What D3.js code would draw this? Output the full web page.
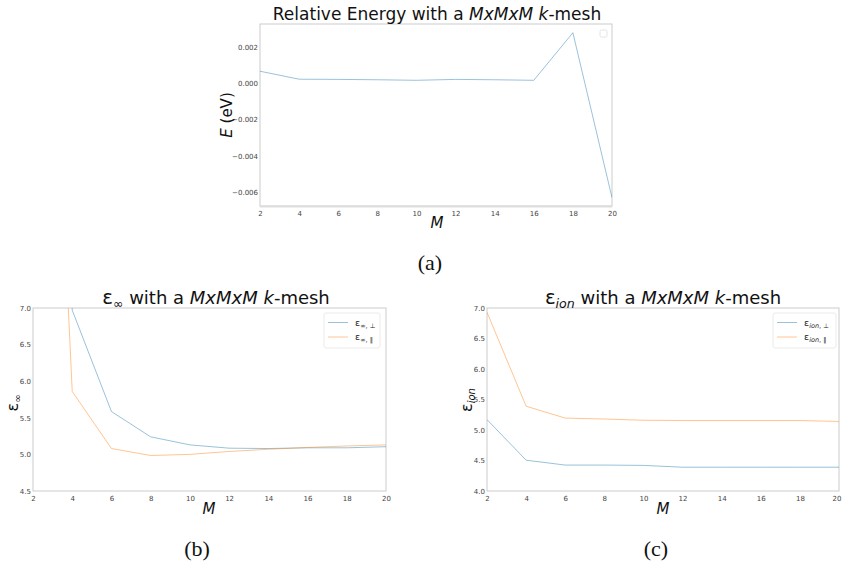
<!DOCTYPE html>
<html><head><meta charset="utf-8">
<script src="https://cdn.jsdelivr.net/npm/d3@7"></script>
<style>
body{margin:0;background:#fff;}
svg text{font-family:"DejaVu Sans",sans-serif;}
</style></head>
<body><svg id="c" width="842" height="568"></svg>
<script>
const M = [2,4,6,8,10,12,14,16,18,20];
const xTicks = [2,4,6,8,10,12,14,16,18,20];
// (a) relative energy (eV)
const energy = [0.00066,0.00022,0.00021,0.00019,0.00016,0.00021,0.00019,0.00016,0.00278,-0.0063];
const energyTicks = [-0.006,-0.004,-0.002,0.000,0.002];
// (b) epsilon infinity
const epsInfPerp = [25.0,6.97,5.585,5.24,5.13,5.085,5.08,5.09,5.09,5.105];
const epsInfPar  = [17.3,5.86,5.08,4.985,5.0,5.04,5.07,5.095,5.115,5.13];
const epsInfTicks = [4.5,5.0,5.5,6.0,6.5,7.0];
// (c) epsilon ion
const epsIonPerp = [5.17,4.505,4.425,4.425,4.42,4.39,4.39,4.39,4.39,4.39];
const epsIonPar  = [6.93,5.39,5.195,5.18,5.16,5.155,5.155,5.155,5.155,5.14];
const epsIonTicks = [4.0,4.5,5.0,5.5,6.0,6.5,7.0];

const svg = d3.select("#c");
const C1 = "#1f77b4", C2 = "#ff7f0e";
let clipId = 0;

function chart(o){
  const x = d3.scaleLinear().domain([2,20]).range([o.x0,o.x1]);
  const y = d3.scaleLinear().domain(o.ydom).range([o.y1,o.y0]);
  const g = svg.append("g");
  const id = "clip"+(clipId++);
  svg.append("clipPath").attr("id",id).append("rect")
    .attr("x",o.x0).attr("y",o.y0).attr("width",o.x1-o.x0).attr("height",o.y1-o.y0);
  const xa = g.append("g").attr("transform",`translate(0,${o.y1})`)
    .call(d3.axisBottom(x).tickValues(xTicks).tickSize(0).tickPadding(5).tickFormat(d3.format("d")));
  const ya = g.append("g").attr("transform",`translate(${o.x0},0)`)
    .call(d3.axisLeft(y).tickValues(o.yticks).tickSize(0).tickPadding(2).tickFormat(o.yfmt));
  [xa,ya].forEach(a=>{a.select(".domain").remove();
    a.selectAll("text").attr("font-size",7).attr("fill","#444").attr("font-family","DejaVu Sans");});
  if(o.shiftLast) xa.selectAll(".tick").filter(d=>d===20).select("text").attr("dx",-2.5);
  g.append("rect").attr("x",o.x0).attr("y",o.y0).attr("width",o.x1-o.x0).attr("height",o.y1-o.y0)
    .attr("fill","none").attr("stroke","#cccccc").attr("stroke-width",1);
  if(o.thickBottom) g.append("line").attr("x1",o.x0).attr("x2",o.x1).attr("y1",o.y1+0.5).attr("y2",o.y1+0.5)
    .attr("stroke","#dddddd").attr("stroke-width",2);
  const line = d3.line().x((d,i)=>x(M[i])).y(d=>y(d));
  o.series.forEach(s=>{
    g.append("path").datum(s.v).attr("d",line).attr("fill","none")
      .attr("stroke",s.c).attr("stroke-opacity",0.45).attr("stroke-width",1)
      .attr("clip-path",`url(#${id})`);
  });
  return {x,y,g};
}

function addTitle(g,cx,yb,parts,size){
  const t = g.append("text").attr("x",cx).attr("y",yb).attr("text-anchor","middle")
    .attr("font-size",size).attr("fill","#111");
  parts.forEach(p=>{
    const ts = t.append("tspan").text(p.t);
    if(p.i) ts.attr("font-style","italic");
    if(p.big) ts.attr("font-size",size*1.1);
    if(p.sub){ ts.attr("font-size",size*0.7).attr("dy",size*0.2); }
    if(p.up){ ts.attr("dy",-size*0.2); }
  });
  return t;
}

// ---- (a)
const a = chart({x0:260,x1:612,y0:24,y1:206,ydom:[-0.00676,0.00326],yticks:energyTicks,
  yfmt:d=>d3.format(".3f")(d).replace("-","\u2212"),thickBottom:true,
  series:[{v:energy,c:C1}]});
addTitle(a.g,437,20,[{t:"Relative Energy with a "},{t:"MxMxM",i:1},{t:" "},{t:"k",i:1},{t:"-mesh"}],17);
a.g.append("text").attr("transform","translate(232,115) rotate(-90)").attr("text-anchor","middle")
  .attr("font-size",15).attr("fill","#111").call(t=>{t.append("tspan").attr("font-style","italic").text("E");t.append("tspan").text(" (eV)");});
a.g.append("text").attr("x",437).attr("y",228).attr("text-anchor","middle").attr("font-size",15)
  .attr("font-style","italic").attr("fill","#111").text("M");
a.g.append("rect").attr("x",600).attr("y",30).attr("width",7).attr("height",7).attr("rx",1.5)
  .attr("fill","#fff").attr("stroke","#dddddd").attr("stroke-width",0.8);
svg.append("text").attr("x",430).attr("y",270).attr("text-anchor","middle")
  .style("font-family","'Liberation Serif',serif").attr("font-size",22).attr("fill","#111").text("(a)");

// ---- (b)
const b = chart({x0:33,x1:386,y0:308,y1:491,ydom:[4.5,7.0],yticks:epsInfTicks,yfmt:d3.format(".1f"),
  series:[{v:epsInfPerp,c:C1},{v:epsInfPar,c:C2}]});
addTitle(b.g,216,304,[{t:"\u03b5",big:1},{t:"\u221e",sub:1},{t:" with a ",up:1},{t:"MxMxM",i:1},{t:" "},{t:"k",i:1},{t:"-mesh"}],18);
b.g.append("text").attr("transform","translate(18,403) rotate(-90)").attr("text-anchor","middle")
  .attr("font-size",16).attr("fill","#111").call(t=>{t.append("tspan").text("\u03b5");t.append("tspan").attr("font-size",10).attr("dy",3).text("\u221e");});
b.g.append("text").attr("x",209).attr("y",514).attr("text-anchor","middle").attr("font-size",15)
  .attr("font-style","italic").attr("fill","#111").text("M");
svg.append("text").attr("x",197).attr("y",556).attr("text-anchor","middle")
  .style("font-family","'Liberation Serif',serif").attr("font-size",22).attr("fill","#111").text("(b)");

// ---- (c)
const c = chart({x0:487,x1:839,y0:308,y1:491,ydom:[4.0,7.0],yticks:epsIonTicks,yfmt:d3.format(".1f"),shiftLast:true,
  series:[{v:epsIonPerp,c:C1},{v:epsIonPar,c:C2}]});
addTitle(c.g,663,304,[{t:"\u03b5",big:1},{t:"ion",sub:1,i:1},{t:" with a ",up:1},{t:"MxMxM",i:1},{t:" "},{t:"k",i:1},{t:"-mesh"}],18);
c.g.append("text").attr("transform","translate(472,400) rotate(-90)").attr("text-anchor","middle")
  .attr("font-size",16).attr("fill","#111").call(t=>{t.append("tspan").text("\u03b5");t.append("tspan").attr("font-size",10).attr("font-style","italic").attr("dy",3).text("ion");});
c.g.append("text").attr("x",663).attr("y",514).attr("text-anchor","middle").attr("font-size",15)
  .attr("font-style","italic").attr("fill","#111").text("M");
svg.append("text").attr("x",656).attr("y",556).attr("text-anchor","middle")
  .style("font-family","'Liberation Serif',serif").attr("font-size",22).attr("fill","#111").text("(c)");

// legends
function legend(g,x0,y0,w,labels){
  g.append("rect").attr("x",x0).attr("y",y0).attr("width",w).attr("height",35).attr("rx",2)
    .attr("fill","#fff").attr("fill-opacity",0.8).attr("stroke","#e6e6e6").attr("stroke-width",0.8);
  labels.forEach((l,i)=>{
    const yy = y0+9.5+i*14.5;
    g.append("line").attr("x1",x0+4).attr("x2",x0+24).attr("y1",yy).attr("y2",yy)
      .attr("stroke",l.c).attr("stroke-opacity",0.45).attr("stroke-width",1);
    const t = g.append("text").attr("x",x0+31).attr("y",yy+3).attr("font-size",9.5).attr("fill","#222");
    t.append("tspan").text("\u03b5");
    const s = t.append("tspan").attr("font-size",6.5).attr("dy",2).text(l.s);
    if(l.i) s.attr("font-style","italic");
    t.append("tspan").attr("font-size",6.5).text(l.r);
  });
}
legend(b.g,324,313,56,[{c:C1,s:"\u221e",r:", \u22a5"},{c:C2,s:"\u221e",r:", \u2225"}]);
legend(c.g,773,313,63,[{c:C1,s:"ion",i:1,r:", \u22a5"},{c:C2,s:"ion",i:1,r:", \u2225"}]);
</script></body></html>
